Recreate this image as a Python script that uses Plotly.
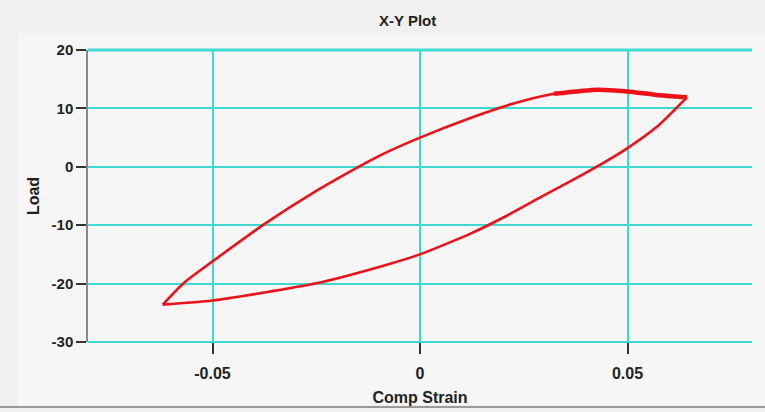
import plotly.graph_objects as go

# Upper branch (left tip -> right tip)
upper_strain = [-0.0620, -0.0568, -0.0500, -0.0379, -0.0247, -0.0148, -0.0086, 0.0000,
                0.0123, 0.0219, 0.0323, 0.0428, 0.0500, 0.0570, 0.0643]
upper_load = [-23.6, -19.8, -16.2, -10.0, -4.0, 0.0, 2.3, 5.0,
              8.4, 10.7, 12.5, 13.2, 12.9, 12.3, 11.9]
# Lower branch (right tip -> left tip)
lower_strain = [0.0643, 0.0570, 0.0500, 0.0440, 0.0364, 0.0283, 0.0203, 0.0123, 0.0000,
                -0.0086, -0.0247, -0.0500, -0.0620]
lower_load = [11.9, 6.8, 3.2, 0.6, -2.4, -5.5, -8.6, -11.4, -15.0,
              -16.9, -19.9, -22.9, -23.6]

x_ticks = [-0.05, 0, 0.05]
x_tick_labels = ["-0.05", "0", "0.05"]
y_ticks = [-30, -20, -10, 0, 10, 20]
y_tick_labels = ["-30", "-20", "-10", "0", "10", "20"]

RED = "#ec1218"
GRID = "#3fd9d2"
FONT = "Liberation Sans, Arial, sans-serif"

L, R, T, B = 88, 13, 50, 70
W, H = 765, 412
pw, ph = W - L - R, H - T - B

def px(xp):
    return (xp - L) / pw

def py(yp):
    return (H - B - yp) / ph

line_style = dict(color=RED, width=2.6, shape="spline", smoothing=0.6)

fig = go.Figure()
fig.add_trace(go.Scatter(x=upper_strain, y=upper_load, mode="lines", line=line_style,
                         hoverinfo="skip", showlegend=False))
fig.add_trace(go.Scatter(x=lower_strain, y=lower_load, mode="lines", line=line_style,
                         hoverinfo="skip", showlegend=False))
# noisier, thicker-looking part of the upper branch near the peak
fig.add_trace(go.Scatter(x=upper_strain[10:], y=upper_load[10:], mode="lines",
                         line=dict(color=RED, width=4.5, shape="spline", smoothing=0.6),
                         hoverinfo="skip", showlegend=False))

fig.update_layout(
    width=W, height=H,
    margin=dict(l=L, r=R, t=T, b=B),
    paper_bgcolor="#f0f0f0",
    plot_bgcolor="white",
    showlegend=False,
    shapes=[
        dict(type="rect", xref="paper", yref="paper", x0=px(18), x1=px(765), y0=py(405), y1=py(33),
             fillcolor="#f6f6f6", line=dict(width=0), layer="below"),
        dict(type="line", xref="paper", yref="paper", x0=px(0), x1=px(765), y0=py(407), y1=py(407),
             line=dict(color="#9a9a9a", width=2)),
        dict(type="line", xref="paper", yref="paper", x0=0, x1=1, y0=1, y1=1,
             line=dict(color=GRID, width=3)),
        dict(type="line", xref="paper", yref="paper", x0=0, x1=1, y0=0, y1=0,
             line=dict(color=GRID, width=2)),
    ],
    annotations=[
        dict(text="X-Y Plot", xref="paper", yref="paper", x=px(407), y=py(20),
             xanchor="center", yanchor="middle", showarrow=False,
             font=dict(family=FONT, size=15, color="#222", weight="bold")),
    ],
)

fig.update_xaxes(
    range=[-0.08, 0.08], tickvals=x_ticks, ticktext=x_tick_labels,
    showgrid=True, gridcolor=GRID, gridwidth=2, zeroline=False, automargin=False,
    showline=False, ticks="outside", ticklen=11, tickwidth=1.5, tickcolor="#333",
    ticklabelstandoff=6,
    tickfont=dict(family=FONT, size=16, color="#222", weight="bold"),
    title=dict(text="Comp Strain", standoff=10,
               font=dict(family=FONT, size=16, color="#222", weight="bold")),
)
fig.update_yaxes(
    range=[-30, 20], tickvals=y_ticks, ticktext=y_tick_labels,
    showgrid=True, gridcolor=GRID, gridwidth=2, zeroline=False, automargin=False,
    showline=True, linecolor="#8a8a8a", linewidth=1.5,
    ticks="outside", ticklen=10, tickwidth=1.5, tickcolor="#333",
    tickfont=dict(family=FONT, size=15, color="#222", weight="bold"),
    title=dict(text="Load", standoff=8,
               font=dict(family=FONT, size=16, color="#222", weight="bold")),
)

fig.write_html("out.html")
